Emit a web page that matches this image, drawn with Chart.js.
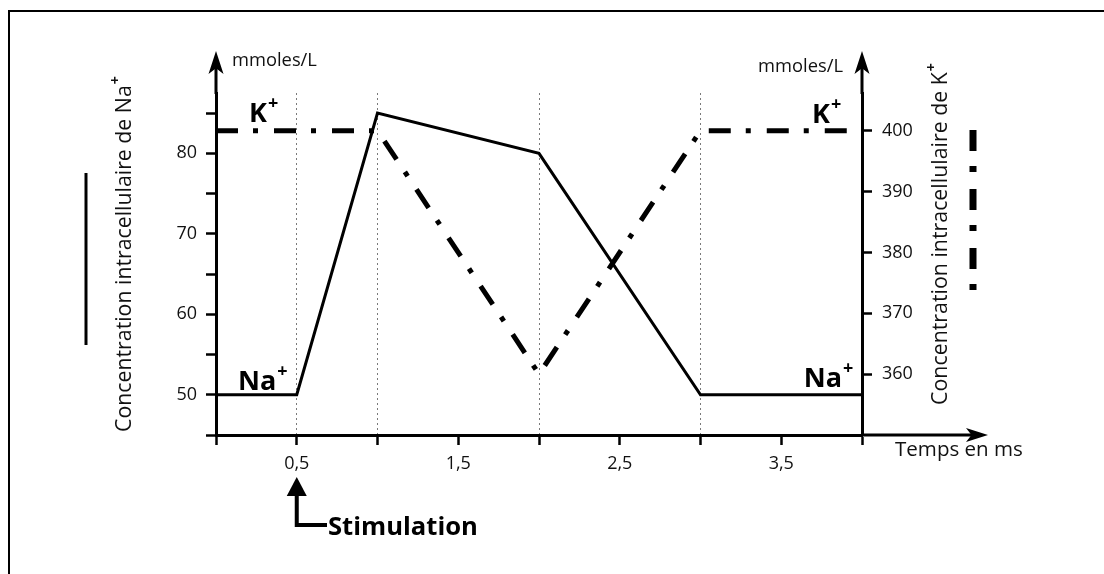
<!DOCTYPE html>
<html>
<head>
<meta charset="utf-8">
<script src="https://cdn.jsdelivr.net/npm/chart.js@4.4.1/dist/chart.umd.min.js"></script>
<style>
    html, body { margin: 0; padding: 0; background: #fff; }
    #wrap { width: 1104px; height: 574px; position: relative; }
</style>
</head>
<body>
<div id="wrap"><canvas id="chart"></canvas></div>
<script>
// temps en ms
const naTimes = [0, 0.5, 1, 2, 3, 4];
const naValues = [50, 50, 85, 80, 50, 50];
const kTimes = [0, 1, 2, 3, 4];
const kValues = [400, 400, 360, 400, 400];

const xTicks = [0, 0.5, 1, 1.5, 2, 2.5, 3, 3.5, 4];
const xLabelled = [0.5, 1.5, 2.5, 3.5];
const guideTimes = [0.5, 1, 2, 3];
const naTicks = [45, 50, 55, 60, 65, 70, 75, 80, 85];
const naLabelled = [50, 60, 70, 80];
const kTicks = [360, 370, 380, 390, 400];
const stimTime = 0.5;

const FONT = '"Open Sans", sans-serif';

function toPoints(xs, ys) {
    return xs.map((x, i) => ({x: x, y: ys[i]}));
}

function near(list, v) {
    return list.some(t => Math.abs(t - v) < 1e-6);
}

function fitSize(ctx, text, width, weight) {
    ctx.font = weight + ' 100px ' + FONT;
    return 100 * width / ctx.measureText(text).width;
}

// text followed by a small raised "+"
function drawIon(ctx, base, x, y, size, weight, align) {
    ctx.font = weight + ' ' + size + 'px ' + FONT;
    const w = ctx.measureText(base).width;
    const x0 = align === 'right' ? x - w : x;
    ctx.textAlign = 'left';
    ctx.textBaseline = 'alphabetic';
    ctx.fillText(base, x0, y);
    ctx.font = 'bold ' + Math.round(size * 0.66) + 'px ' + FONT;
    ctx.fillText('+', x0 + w + 1, y - size * 0.5);
}

function arrowHead(ctx, tipX, tipY, dir, len, half) {
    ctx.beginPath();
    if (dir === 'up') {
        ctx.moveTo(tipX, tipY);
        ctx.lineTo(tipX + half, tipY + len);
        ctx.lineTo(tipX, tipY + len * 0.75);
        ctx.lineTo(tipX - half, tipY + len);
    } else {
        ctx.moveTo(tipX, tipY);
        ctx.lineTo(tipX - len, tipY - half);
        ctx.lineTo(tipX - len * 0.75, tipY);
        ctx.lineTo(tipX - len, tipY + half);
    }
    ctx.closePath();
    ctx.fill();
}

const decor = {
    id: 'decor',
    afterDraw(chart) {
        const ctx = chart.ctx;
        const area = chart.chartArea;
        const xs = chart.scales.x;
        ctx.save();
        ctx.fillStyle = '#000';
        ctx.strokeStyle = '#000';

        // cadre
        ctx.lineWidth = 2;
        ctx.beginPath();
        ctx.moveTo(9, 574);
        ctx.lineTo(9, 11);
        ctx.lineTo(1104, 11);
        ctx.stroke();

        // prolongements des axes et flèches
        ctx.lineWidth = 3;
        ctx.beginPath();
        ctx.moveTo(area.left, area.top + 1);
        ctx.lineTo(area.left, 66);
        ctx.moveTo(area.right, area.top + 1);
        ctx.lineTo(area.right, 66);
        ctx.moveTo(area.right - 1, area.bottom);
        ctx.lineTo(975, area.bottom);
        ctx.stroke();
        arrowHead(ctx, area.left, 51, 'up', 23, 7.5);
        arrowHead(ctx, area.right, 51, 'up', 23, 7.5);
        arrowHead(ctx, 988, area.bottom, 'right', 22, 7);

        // repères de légende
        ctx.lineWidth = 3;
        ctx.beginPath();
        ctx.moveTo(86, 173);
        ctx.lineTo(86, 345);
        ctx.stroke();
        ctx.lineWidth = 7;
        ctx.setLineDash([21, 15, 6, 17]);
        ctx.beginPath();
        ctx.moveTo(973, 130);
        ctx.lineTo(973, 290);
        ctx.stroke();
        ctx.setLineDash([]);

        // flèche de stimulation
        const sx = xs.getPixelForValue(stimTime);
        ctx.beginPath();
        ctx.moveTo(sx, 477);
        ctx.lineTo(sx + 10, 496);
        ctx.lineTo(sx - 10, 496);
        ctx.closePath();
        ctx.fill();
        ctx.lineWidth = 4;
        ctx.lineJoin = 'miter';
        ctx.beginPath();
        ctx.moveTo(sx, 494);
        ctx.lineTo(sx, 525);
        ctx.lineTo(327, 525);
        ctx.stroke();

        // textes
        ctx.fillStyle = '#111';
        let s = fitSize(ctx, 'mmoles/L', 85, 'normal');
        ctx.font = s + 'px ' + FONT;
        ctx.textAlign = 'left';
        ctx.textBaseline = 'alphabetic';
        ctx.fillText('mmoles/L', 232, 66);
        ctx.textAlign = 'right';
        ctx.fillText('mmoles/L', 843, 72);

        s = fitSize(ctx, 'Temps en ms', 128, 'normal');
        ctx.font = s + 'px ' + FONT;
        ctx.textAlign = 'left';
        ctx.fillText('Temps en ms', 895, 456);

        ctx.fillStyle = '#000';
        s = fitSize(ctx, 'Stimulation', 150, 'bold');
        ctx.font = 'bold ' + s + 'px ' + FONT;
        ctx.fillText('Stimulation', 328, 535);

        drawIon(ctx, 'K', 249, 122, 27, 'bold', 'left');
        drawIon(ctx, 'K', 812, 123, 27, 'bold', 'left');
        drawIon(ctx, 'Na', 238, 390, 27, 'bold', 'left');
        drawIon(ctx, 'Na', 842, 387, 27, 'bold', 'right');

        // titres des axes verticaux
        ctx.fillStyle = '#111';
        ctx.save();
        ctx.translate(131, 432);
        ctx.rotate(-Math.PI / 2);
        s = fitSize(ctx, 'Concentration intracellulaire de Na', 347, 'normal');
        drawIon(ctx, 'Concentration intracellulaire de Na', 0, 0, s, 'normal', 'left');
        ctx.restore();

        ctx.save();
        ctx.translate(947, 405);
        ctx.rotate(-Math.PI / 2);
        s = fitSize(ctx, 'Concentration intracellulaire de K', 333, 'normal');
        drawIon(ctx, 'Concentration intracellulaire de K', 0, 0, s, 'normal', 'left');
        ctx.restore();

        ctx.restore();
    }
};

const tickFont = {family: FONT, size: 18};

new Chart(document.getElementById('chart'), {
    type: 'line',
    data: {
        datasets: [
            {
                data: toPoints(naTimes, naValues),
                yAxisID: 'y',
                borderColor: '#000',
                borderWidth: 3,
                borderJoinStyle: 'miter',
                pointRadius: 0,
                tension: 0,
                fill: false,
                clip: false
            },
            {
                data: toPoints(kTimes, kValues),
                yAxisID: 'y2',
                borderColor: '#000',
                borderWidth: 5,
                borderDash: [22, 15, 5, 16],
                borderCapStyle: 'butt',
                borderJoinStyle: 'miter',
                pointRadius: 0,
                tension: 0,
                fill: false,
                clip: false
            }
        ]
    },
    options: {
        responsive: true,
        maintainAspectRatio: false,
        animation: false,
        layout: {padding: {top: 93, left: 0, right: 0, bottom: 0}},
        plugins: {legend: {display: false}, tooltip: {enabled: false}},
        scales: {
            x: {
                type: 'linear',
                min: 0,
                max: 4,
                afterBuildTicks: scale => { scale.ticks = xTicks.map(v => ({value: v})); },
                afterFit: scale => { scale.height = 139; },
                ticks: {
                    autoSkip: false,
                    maxRotation: 0,
                    padding: 8,
                    color: '#111',
                    font: tickFont,
                    callback: v => near(xLabelled, v) ? String(v).replace('.', ',') : ''
                },
                grid: {
                    drawOnChartArea: true,
                    drawTicks: true,
                    tickLength: 10,
                    tickWidth: 2.5,
                    tickColor: '#000',
                    lineWidth: 1,
                    color: c => (c.tick && near(guideTimes, c.tick.value)) ? '#7a7a7a' : 'rgba(0,0,0,0)'
                },
                border: {display: true, color: '#000', width: 3, dash: [2, 3]}
            },
            y: {
                type: 'linear',
                position: 'left',
                min: 45,
                max: 87.5,
                afterBuildTicks: scale => { scale.ticks = naTicks.map(v => ({value: v})); },
                afterFit: scale => { scale.width = 216; },
                ticks: {
                    padding: 9,
                    color: '#111',
                    font: tickFont,
                    callback: v => near(naLabelled, v) ? String(v) : ''
                },
                grid: {
                    drawOnChartArea: false,
                    tickLength: 10,
                    tickWidth: 2.5,
                    tickColor: '#000'
                },
                border: {display: true, color: '#000', width: 3}
            },
            y2: {
                type: 'linear',
                position: 'right',
                min: 350,
                max: 406.2,
                afterBuildTicks: scale => { scale.ticks = kTicks.map(v => ({value: v})); },
                afterFit: scale => { scale.width = 242; },
                ticks: {
                    padding: 10,
                    color: '#111',
                    font: tickFont,
                    callback: v => String(v)
                },
                grid: {
                    drawOnChartArea: false,
                    tickLength: 10,
                    tickWidth: 2.5,
                    tickColor: '#000'
                },
                border: {display: true, color: '#000', width: 3}
            }
        }
    },
    plugins: [decor]
});
</script>
</body>
</html>
